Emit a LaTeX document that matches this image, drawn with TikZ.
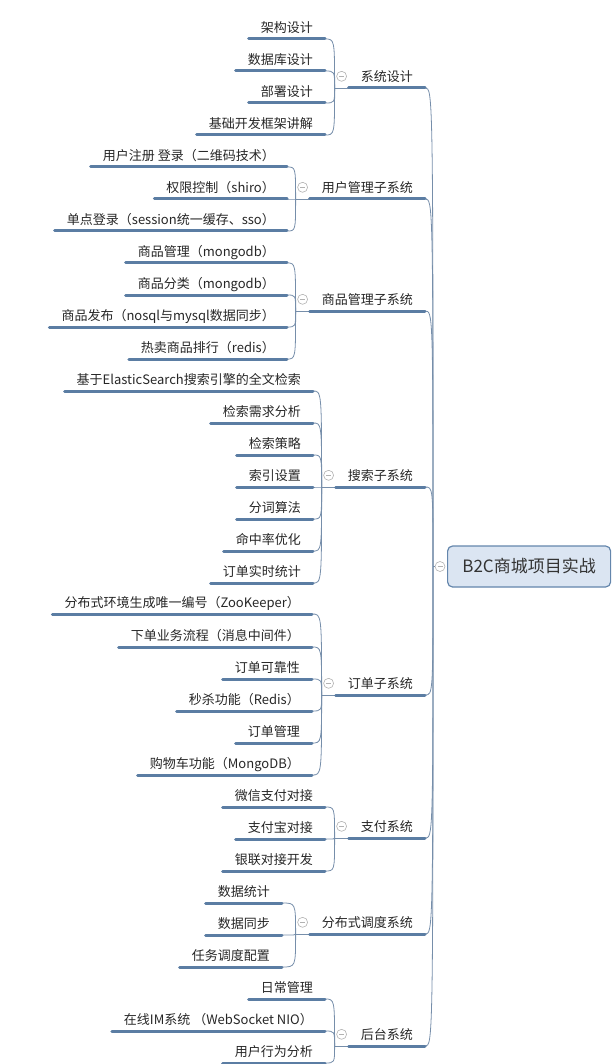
\documentclass[tikz,border=0pt]{standalone}
\usepackage{fontspec}
\setmainfont{Noto Sans CJK SC}
\definecolor{ulblue}{RGB}{91,125,163}
\definecolor{lnblue}{RGB}{118,142,170}
\definecolor{rootfill}{RGB}{219,229,242}
\definecolor{rootline}{RGB}{100,134,172}
\tikzset{
  topic/.style={font=\fontsize{13}{15}\selectfont,text=black!85,inner xsep=12pt,inner ysep=6pt,
    text height=11pt,text depth=0pt,anchor=south east},
  uline/.style={draw=ulblue,line width=3pt,line cap=round},
  conn/.style={draw=lnblue,line width=.8pt},
  fold/.style={circle,draw=gray!60,fill=white,minimum size=10pt,inner sep=0pt,line width=.6pt,
    path picture={\draw[gray!60,line width=.6pt] ([xshift=2.5pt]path picture bounding box.west)--([xshift=-2.5pt]path picture bounding box.east);}},
  rootbox/.style={draw=rootline,fill=rootfill,line width=1.2pt,rounded corners=5pt,anchor=west,
    minimum width=163pt,minimum height=41pt,font=\fontsize{17}{20}\selectfont,text=black!80}
}
\begin{document}
\begin{tikzpicture}[x=1pt,y=-1pt,line join=round]
\useasboundingbox (0,0) rectangle (611,1064);
\node[rootbox] (R) at (447,566.5) {B2C商城项目实战};
\node[fold] (fR) at ([xshift=-7pt]R.west) {};
\path ([xshift=-14pt]R.west) coordinate (jR);
\draw[conn] (jR)--(fR);
% sub topics
\foreach \g/\yy/\lab in {a/88/系统设计,b/199/用户管理子系统,c/311/商品管理子系统,d/487/搜索子系统,
  e/695/订单子系统,f/838/支付系统,g/934/分布式调度系统,h/1046/后台系统}
{\node[topic] (s\g) at (425,\yy) {\lab};
 \node[fold] (f\g) at ([xshift=-7pt]s\g.west) {};
 \path ([xshift=-14pt]s\g.south west) coordinate (j\g);
 \draw[conn] (jR) .. controls (jR |- s\g.south east) .. (s\g.south east);
 \draw[conn] (j\g)--(s\g.south west);
 \draw[uline] (s\g.south west)--(s\g.south east);
}
% leaves
\foreach \m/\yy/\lab in {1/39/架构设计,2/71/数据库设计,3/103/部署设计,4/135/基础开发框架讲解}
{\node[topic] (a\m) at (325,\yy) {\lab};
 \draw[conn] (ja) .. controls (ja |- a\m.south east) .. (a\m.south east);
 \draw[uline] (a\m.south west)--(a\m.south east);}
\foreach \m/\yy/\lab in {1/167/用户注册 登录（二维码技术）,2/199/权限控制（shiro）,3/231/单点登录（session统一缓存、sso）}
{\node[topic] (b\m) at (287,\yy) {\lab};
 \draw[conn] (jb) .. controls (jb |- b\m.south east) .. (b\m.south east);
 \draw[uline] (b\m.south west)--(b\m.south east);}
\foreach \m/\yy/\lab in {1/263/商品管理（mongodb）,2/295/商品分类（mongodb）,3/327/商品发布（nosql与mysql数据同步）,4/359/热卖商品排行（redis）}
{\node[topic] (c\m) at (287,\yy) {\lab};
 \draw[conn] (jc) .. controls (jc |- c\m.south east) .. (c\m.south east);
 \draw[uline] (c\m.south west)--(c\m.south east);}
\foreach \m/\yy/\lab in {1/391/基于ElasticSearch搜索引擎的全文检索,2/423/检索需求分析,3/455/检索策略,4/487/索引设置,
  5/519/分词算法,6/551/命中率优化,7/583/订单实时统计}
{\node[topic] (d\m) at (313,\yy) {\lab};
 \draw[conn] (jd) .. controls (jd |- d\m.south east) .. (d\m.south east);
 \draw[uline] (d\m.south west)--(d\m.south east);}
\foreach \m/\yy/\lab in {1/614/分布式环境生成唯一编号（ZooKeeper）,2/647/下单业务流程（消息中间件）,3/679/订单可靠性,
  4/711/秒杀功能（Redis）,5/743/订单管理,6/775/购物车功能（MongoDB）}
{\node[topic] (e\m) at (312,\yy) {\lab};
 \draw[conn] (je) .. controls (je |- e\m.south east) .. (e\m.south east);
 \draw[uline] (e\m.south west)--(e\m.south east);}
\foreach \m/\yy/\lab in {1/807/微信支付对接,2/839/支付宝对接,3/871/银联对接开发}
{\node[topic] (f\m) at (325,\yy) {\lab};
 \draw[conn] (jf) .. controls (jf |- f\m.south east) .. (f\m.south east);
 \draw[uline] (f\m.south west)--(f\m.south east);}
\foreach \m/\yy/\lab in {1/903/数据统计,2/935/数据同步,3/967/任务调度配置}
{\node[topic] (g\m) at (282,\yy) {\lab};
 \draw[conn] (jg) .. controls (jg |- g\m.south east) .. (g\m.south east);
 \draw[uline] (g\m.south west)--(g\m.south east);}
\foreach \m/\yy/\lab in {1/999/日常管理,2/1031/在线IM系统 （WebSocket NIO）,3/1063/用户行为分析}
{\node[topic] (h\m) at (325,\yy) {\lab};
 \draw[conn] (jh) .. controls (jh |- h\m.south east) .. (h\m.south east);
 \draw[uline] (h\m.south west)--(h\m.south east);}
\end{tikzpicture}
\end{document}
